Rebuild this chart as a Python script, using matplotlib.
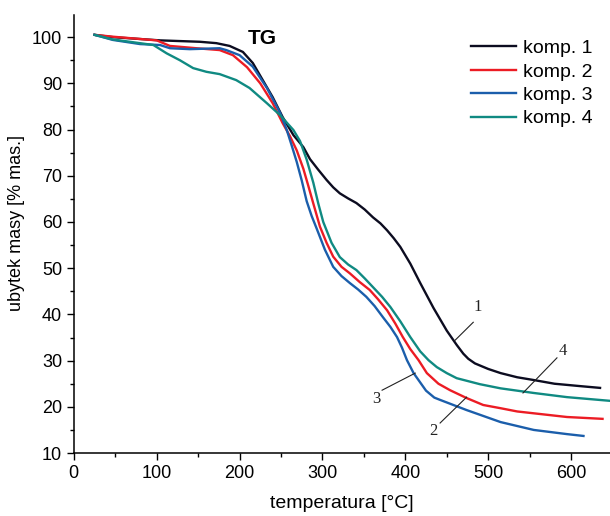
import matplotlib
matplotlib.use("Agg")
import matplotlib.pyplot as plt
from matplotlib.ticker import MultipleLocator

plt.rcParams['font.family'] = ['Liberation Sans', 'DejaVu Sans']

labels = ["komp. 1", "komp. 2", "komp. 3", "komp. 4"]
colors = ["#0c0c20", "#ec1c24", "#1b5eab", "#108a82"]

x1 = [25, 47, 104, 152, 172, 188, 204, 216, 228, 240, 252, 265, 277, 285, 295, 305, 313, 321, 331, 341, 351, 361, 370, 378, 386, 394, 406, 418, 434, 450, 462, 470, 476, 484, 500, 515, 535, 555, 580, 610, 635]
y1 = [100.5, 100, 99.3, 99, 98.7, 98.1, 96.8, 94.4, 90.7, 87, 82.7, 78.8, 76.2, 73.6, 71.3, 69.1, 67.5, 66.2, 65.1, 64.1, 62.7, 61, 59.7, 58.2, 56.5, 54.6, 51, 46.8, 41.4, 36.5, 33.4, 31.5, 30.4, 29.4, 28.2, 27.3, 26.4, 25.8, 25, 24.5, 24.1]

x2 = [25, 47, 100, 116, 148, 176, 192, 209, 225, 240, 252, 261, 269, 277, 283, 289, 297, 305, 313, 323, 333, 345, 357, 367, 378, 388, 397, 406, 416, 426, 440, 454, 474, 494, 515, 535, 555, 595, 638]
y2 = [100.5, 100.1, 99.3, 98.1, 97.6, 97.2, 96.1, 93.5, 90, 85.7, 81.4, 78.5, 75.5, 71.5, 67.8, 64, 59, 55.5, 52.5, 50.3, 48.9, 47, 45.3, 43.3, 40.9, 38, 35.1, 32.5, 30.1, 27.3, 25, 23.6, 21.9, 20.4, 19.7, 19, 18.6, 17.8, 17.4]

x3 = [25, 47, 80, 104, 116, 140, 176, 184, 200, 216, 233, 249, 257, 263, 269, 275, 281, 287, 293, 303, 313, 323, 333, 343, 353, 363, 373, 382, 390, 396, 402, 410, 425, 435, 442, 474, 515, 555, 595, 615]
y3 = [100.5, 99.4, 98.5, 98.3, 97.6, 97.4, 97.6, 97.2, 96.1, 93.6, 89, 83.6, 79.9, 76.5, 73, 69, 64.5, 61.3, 58.6, 54, 50.3, 48.3, 46.8, 45.4, 43.8, 41.8, 39.4, 37.3, 35.1, 32.8, 30.1, 27.3, 23.5, 22, 21.5, 19.3, 16.7, 15, 14.1, 13.7]

x4 = [25, 47, 96, 112, 128, 144, 160, 176, 196, 212, 233, 249, 265, 273, 281, 289, 295, 301, 311, 321, 331, 341, 351, 361, 372, 382, 394, 406, 418, 428, 438, 450, 462, 490, 515, 555, 595, 647]
y4 = [100.5, 99.5, 98.3, 96.5, 95, 93.3, 92.5, 92, 90.7, 89, 85.7, 83.1, 79.9, 77.5, 73.5, 68.5, 64, 60, 55.5, 52.4, 50.8, 49.6, 47.8, 45.9, 43.8, 41.6, 38.5, 35.1, 32, 30.1, 28.6, 27.3, 26.2, 24.9, 24, 23, 22.1, 21.3]

# annotation labels: (text, label position, line start, line end)
ann_text = ["1", "2", "3", "4"]
ann_label = [(487, 41.5), (434, 14.8), (365, 21.8), (590, 32)]
ann_start = [(482, 38.3), (442, 16.5), (372, 23.6), (583, 30.6)]
ann_end = [(460, 34.4), (474, 22.1), (412, 27.3), (542, 23.0)]

fig = plt.figure(figsize=(6.10, 5.16), dpi=100)
ax = fig.add_axes([0.121, 0.122, 0.879, 0.849])

for xs, ys, c, l in zip([x1, x2, x3, x4], [y1, y2, y3, y4], colors, labels):
    ax.plot(xs, ys, color=c, lw=1.7, label=l, solid_joinstyle='round')

for t, lp, s, e in zip(ann_text, ann_label, ann_start, ann_end):
    ax.plot([s[0], e[0]], [s[1], e[1]], color="#222222", lw=0.8)
    ax.text(lp[0], lp[1], t, family=['Liberation Serif'], fontsize=12,
            ha='center', va='center', color="#222222")

ax.text(227, 99.6, "TG", fontsize=15, fontweight='bold', ha='center', va='center')

ax.set_xlim(0, 647)
ax.set_ylim(10, 104.8)
ax.xaxis.set_major_locator(MultipleLocator(100))
ax.xaxis.set_minor_locator(MultipleLocator(50))
ax.yaxis.set_major_locator(MultipleLocator(10))
ax.yaxis.set_minor_locator(MultipleLocator(5))
ax.tick_params(which='major', direction='out', length=5, width=1, labelsize=13)
ax.tick_params(which='minor', direction='out', length=3, width=1)
for s in ['top', 'right']:
    ax.spines[s].set_visible(False)
for s in ['left', 'bottom']:
    ax.spines[s].set_linewidth(1.1)

ax.set_xlabel("temperatura [°C]", fontsize=14)
ax.set_ylabel("ubytek masy [% mas.]", fontsize=13)
# label centres: x-label at y≈503px, y-label at x≈17px, y≈223px
ax.xaxis.set_label_coords(0.5, (453 - 503) / 438, transform=ax.transAxes)
ax.xaxis.label.set_va('center')
ax.yaxis.set_label_coords((17 - 74) / 536, (453 - 223) / 438, transform=ax.transAxes)
ax.yaxis.label.set_va('center')

ax.legend(loc='upper right', bbox_to_anchor=(1.0, 0.984), frameon=False,
          fontsize=14, handlelength=2.3, handletextpad=0.35, labelspacing=0.3,
          borderpad=0.4)

fig.savefig("out.png", dpi=100)
